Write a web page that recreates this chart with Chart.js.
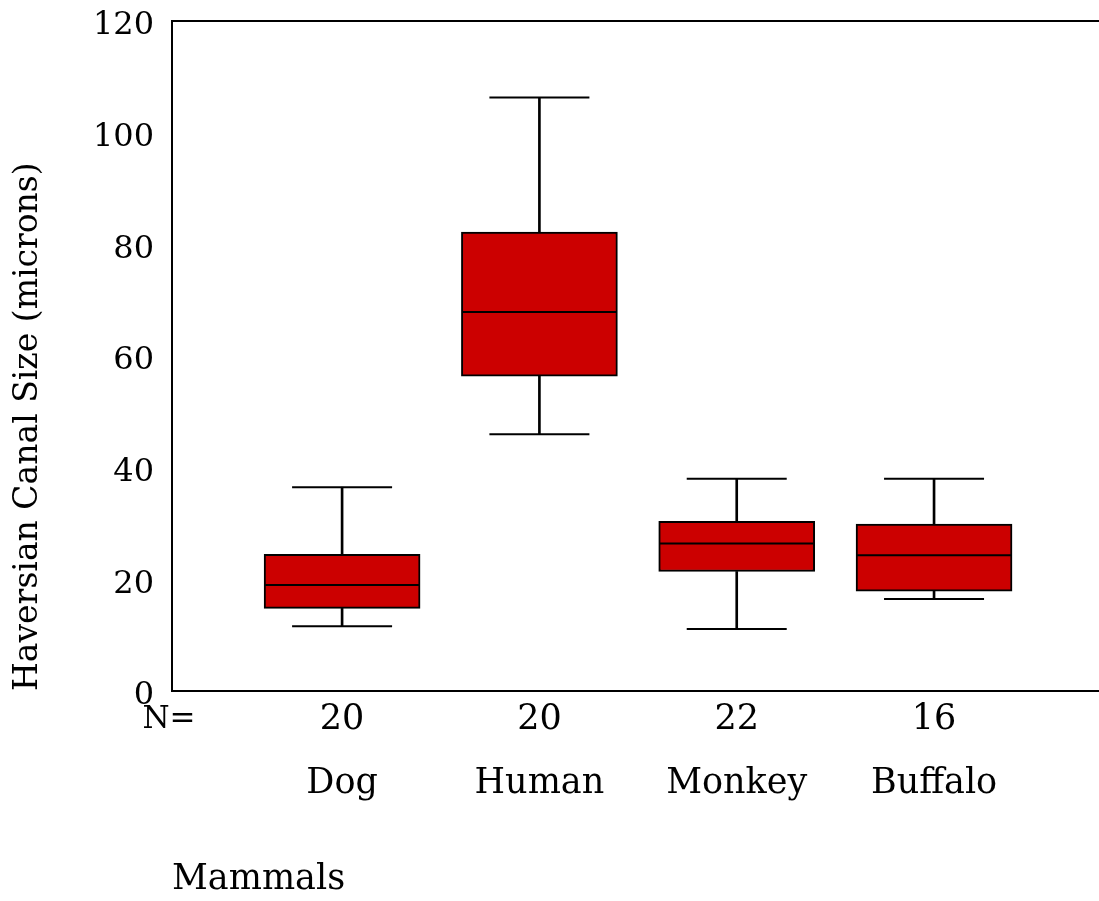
<!DOCTYPE html>
<html>
<head>
<meta charset="utf-8">
<script src="https://cdn.jsdelivr.net/npm/chart.js@4"></script>
<style>
  body { margin: 0; background: #fff; }
  #wrap { width: 1099px; height: 901px; }
</style>
</head>
<body>
<div id="wrap"><canvas id="boxChart"></canvas></div>
<script>
// categories and group sizes
var categories = ['Dog', 'Human', 'Monkey', 'Buffalo'];
var counts = [20, 20, 22, 16];
var positions = [1, 2, 3, 4];

// box plot values (microns)
var whiskerLow  = [11.6, 46.0, 11.1, 16.5];
var quart1      = [14.8, 56.4, 21.4, 17.9];
var median      = [19.0, 67.9, 26.4, 24.3];
var quart3      = [24.5, 82.2, 30.4, 29.9];
var whiskerHigh = [36.5, 106.3, 38.0, 38.0];

var yTicks = [0, 20, 40, 60, 80, 100, 120];

var serif = 'DejaVu Serif';
var xMin = 0.138, xMax = 4.836;

function pts(vals) {
    return positions.map(function (x, i) { return { x: x, y: vals[i] }; });
}
function spans(a, b) {
    return positions.map(function (x, i) { return { x: x, y: [a[i], b[i]] }; });
}

// "N=" in front of the counts row
var nLabel = {
    id: 'nLabel',
    afterDraw: function (chart) {
        var c = chart.ctx;
        c.save();
        c.font = '31px "' + serif + '"';
        c.fillStyle = '#000';
        c.textAlign = 'center';
        c.textBaseline = 'middle';
        c.fillText('N=', chart.scales.y.right - 3, chart.scales.x.top + 29);
        c.restore();
    }
};

var ctx = document.getElementById('boxChart').getContext('2d');
var chart = new Chart(ctx, {
    type: 'bar',
    data: {
        datasets: [
            {   // upper whisker stem
                data: spans(quart3, whiskerHigh),
                backgroundColor: '#000', borderWidth: 0,
                barThickness: 2, grouped: false, order: 3
            },
            {   // lower whisker stem
                data: spans(whiskerLow, quart1),
                backgroundColor: '#000', borderWidth: 0,
                barThickness: 2, grouped: false, order: 3
            },
            {   // boxes
                data: spans(quart1, quart3),
                backgroundColor: '#cc0000', borderColor: '#000',
                borderWidth: 2, borderSkipped: false,
                barThickness: 156, grouped: false, order: 2
            },
            {   // medians
                type: 'scatter',
                data: pts(median),
                pointStyle: 'line', pointRadius: 77, pointHoverRadius: 77,
                pointBorderColor: '#000', pointBorderWidth: 2, order: 1
            },
            {   // whisker caps
                type: 'scatter',
                data: pts(whiskerHigh).concat(pts(whiskerLow)),
                pointStyle: 'line', pointRadius: 50, pointHoverRadius: 50,
                pointBorderColor: '#000', pointBorderWidth: 2, order: 1
            }
        ]
    },
    options: {
        responsive: true,
        maintainAspectRatio: false,
        animation: false,
        events: [],
        layout: { autoPadding: false, padding: { top: 21, right: 0, bottom: 0, left: 0 } },
        plugins: { legend: { display: false }, tooltip: { enabled: false } },
        scales: {
            x: {
                type: 'linear', position: 'bottom',
                min: xMin, max: xMax, offset: false,
                grid: { display: false, drawTicks: false },
                border: { display: true, color: '#000', width: 2 },
                afterBuildTicks: function (s) {
                    s.ticks = positions.map(function (v) { return { value: v }; });
                },
                ticks: {
                    autoSkip: false, maxRotation: 0, padding: -3,
                    color: '#000',
                    font: { family: serif, size: 35, lineHeight: '64px' },
                    callback: function (v) {
                        var i = positions.indexOf(v);
                        return i < 0 ? '' : [String(counts[i]), categories[i]];
                    }
                },
                title: {
                    display: true, text: 'Mammals', align: 'start',
                    color: '#000', padding: { top: 0, bottom: 0 },
                    font: { family: serif, size: 35 }
                },
                afterFit: function (s) {
                    s.height = 210;
                    s.paddingLeft = 0; s.paddingRight = 0;
                }
            },
            x2: {
                type: 'linear', position: 'top',
                min: xMin, max: xMax,
                grid: { display: false, drawTicks: false },
                ticks: { display: false },
                border: { display: true, color: '#000', width: 2 },
                afterFit: function (s) { s.height = 0; }
            },
            y: {
                min: 0, max: 120,
                grid: { display: false, drawTicks: false },
                border: { display: true, color: '#000', width: 2 },
                afterBuildTicks: function (s) {
                    s.ticks = yTicks.map(function (v) { return { value: v }; });
                },
                ticks: {
                    color: '#000', padding: 18, labelOffset: 5,
                    font: { family: serif, size: 32 }
                },
                title: {
                    display: true, text: 'Haversian Canal Size (microns)',
                    align: 'start', color: '#000',
                    padding: { top: 9, bottom: 0 },
                    font: { family: serif, size: 33 }
                },
                afterFit: function (s) {
                    s.width = 172;
                    s.paddingTop = 0; s.paddingBottom = 0;
                }
            }
        }
    },
    plugins: [nLabel]
});
</script>
</body>
</html>
